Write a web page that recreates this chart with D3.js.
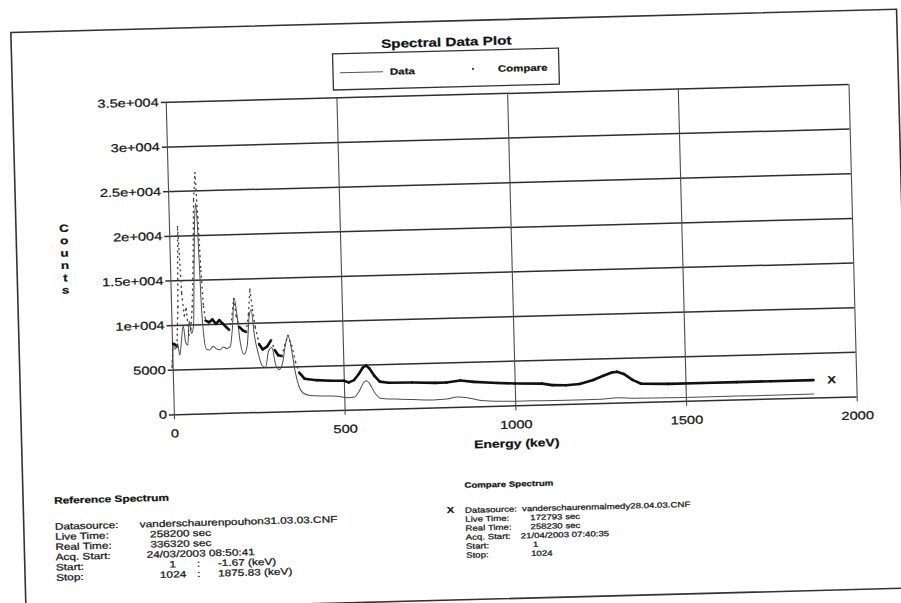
<!DOCTYPE html>
<html>
<head>
<meta charset="utf-8">
<script src="https://cdn.jsdelivr.net/npm/d3@7"></script>
<style>
  body { margin: 0; background: #fff; }
  svg { display: block; }
  text { font-family: "Liberation Sans", Arial, sans-serif; fill: #111; stroke: #222; stroke-width: 0.25px; }
</style>
</head>
<body>
<div id="chart"></div>
<script>
// values, energy in keV -> counts
var dataSeries = [
  [-1.7, 5200], [4, 7600], [10, 7300], [16, 7900], [22, 6600], [28, 8300], [34, 9900],
  [40, 8000], [46, 7700], [52, 10400], [58, 9000], [64, 9800], [70, 16000], [76, 22000],
  [80, 23600], [84, 20000], [88, 13000], [94, 8500], [100, 7200], [110, 7100], [120, 7500],
  [130, 7200], [140, 7100], [150, 7400], [160, 7200], [170, 7400], [178, 9500], [185, 12800],
  [192, 11000], [200, 7800], [210, 6500], [220, 7500], [228, 10800], [234, 11500], [242, 8500],
  [252, 6500], [262, 5200], [272, 5000], [282, 6800], [292, 7200], [302, 5200], [312, 4700],
  [322, 5400], [332, 7500], [340, 8500], [348, 7200], [358, 4500], [368, 2800], [380, 2000],
  [400, 1700], [440, 1600], [480, 1550], [510, 1350], [530, 1400], [545, 2100], [558, 3000],
  [566, 3200], [576, 2800], [590, 1800], [605, 1200], [650, 1050], [700, 950], [760, 850],
  [800, 900], [830, 1100], [860, 1000], [900, 650], [960, 500], [1050, 450], [1150, 420],
  [1250, 430], [1300, 550], [1350, 430], [1450, 400], [1550, 380], [1650, 380], [1750, 380],
  [1875, 400]
];

var compareSeries = [
  [-1.7, 5300], [3, 7900], [8, 7800], [14, 7600], [20, 12000], [25, 21000], [28, 18000],
  [32, 13500], [38, 11000], [44, 11800], [50, 8800], [56, 9500], [62, 12000], [68, 17000],
  [74, 24000], [80, 27000], [85, 22000], [90, 16000], [95, 12000], [100, 10400], [110, 10200],
  [120, 10500], [130, 10000], [140, 10400], [150, 10000], [160, 9600], [168, 9300], [176, 10400],
  [184, 12800], [190, 10800], [198, 9600], [208, 9200], [218, 9000], [226, 11000], [232, 13800],
  [238, 11500], [245, 9500], [255, 7600], [265, 7000], [278, 7300], [290, 8000], [300, 6900],
  [310, 6300], [320, 6200], [330, 7400], [340, 8500], [350, 7400], [360, 5500], [370, 4300],
  [385, 3600], [420, 3400], [460, 3300], [500, 3250], [515, 3050], [530, 3300], [545, 4000],
  [556, 4650], [566, 4900], [576, 4550], [590, 3700], [605, 3050], [630, 2900], [700, 2850],
  [767, 2750], [800, 2750], [841, 2950], [880, 2750], [950, 2550], [1000, 2450], [1080, 2350],
  [1110, 2150], [1150, 2100], [1190, 2200], [1230, 2600], [1260, 3050], [1285, 3400],
  [1300, 3450], [1320, 3200], [1345, 2500], [1370, 2050], [1450, 1950], [1550, 1950],
  [1650, 1950], [1750, 1950], [1875, 1950]
];

var xTicks = [0, 500, 1000, 1500, 2000];
var xTickLabels = ["0", "500", "1000", "1500", "2000"];
var yTicks = [0, 5000, 10000, 15000, 20000, 25000, 30000, 35000];
var yTickLabels = ["0", "5000", "1e+004", "1.5e+004", "2e+004", "2.5e+004", "3e+004", "3.5e+004"];
var yTitleLetters = ["C", "o", "u", "n", "t", "s"];
var legendNames = ["Data", "Compare"];

var refInfo = [
  ["Datasource:", "vanderschaurenpouhon31.03.03.CNF"],
  ["Live Time:", "258200 sec"],
  ["Real Time:", "336320 sec"],
  ["Acq. Start:", "24/03/2003 08:50:41"],
  ["Start:", "1", ":", "-1.67 (keV)"],
  ["Stop:", "1024", ":", "1875.83 (keV)"]
];
var cmpInfo = [
  ["Datasource:", "vanderschaurenmalmedy28.04.03.CNF"],
  ["Live Time:", "172793 sec"],
  ["Real Time:", "258230 sec"],
  ["Acq. Start:", "21/04/2003 07:40:35"],
  ["Start:", "1"],
  ["Stop:", "1024"]
];

// page and plot geometry (before the scan tilt)
var margin = {left: 171, top: 94.5};
var width = 683, height = 312.5;
var tilt = -1.5;

var svg = d3.select("#chart").append("svg")
  .attr("width", 901)
  .attr("height", 603);

var page = svg.append("g")
  .attr("transform", "rotate(" + tilt + ",450,300)");

// printed page border
page.append("path")
  .attr("d", "M18,600 L18,21 L904,21 L904,600 Z")
  .attr("fill", "none")
  .attr("stroke", "#333")
  .attr("stroke-width", 1.6);

page.append("text")
  .attr("x", 453).attr("y", 42).attr("dy", "0.35em")
  .attr("text-anchor", "middle")
  .attr("font-size", 12).attr("font-weight", "bold")
  .text("Spectral Data Plot");

// legend
var legend = page.append("g");
legend.append("rect")
  .attr("x", 339).attr("y", 51).attr("width", 226).attr("height", 36)
  .attr("fill", "none").attr("stroke", "#333").attr("stroke-width", 1.3);
legend.append("line")
  .attr("x1", 346).attr("x2", 389).attr("y1", 70).attr("y2", 70)
  .attr("stroke", "#555").attr("stroke-width", 1);
legend.append("circle")
  .attr("cx", 479).attr("cy", 69.5).attr("r", 1.1).attr("fill", "#333");
legend.selectAll("text.lg")
  .data(legendNames)
  .enter().append("text")
    .attr("class", "lg")
    .attr("x", function(d, i) { return i ? 504 : 396; })
    .attr("y", 70).attr("dy", "0.35em")
    .attr("font-size", 9).attr("font-weight", "bold")
    .text(function(d) { return d; });

var plot = page.append("g")
  .attr("transform", "translate(" + margin.left + "," + margin.top + ")");

var x = d3.scaleLinear().domain([0, 2000]).range([0, width]);
var y = d3.scaleLinear().domain([0, 35000]).range([height, 0]);

// horizontal grid + labels
var yAxis = plot.append("g")
  .call(d3.axisLeft(y)
    .tickValues(yTicks)
    .tickFormat(function(d, i) { return yTickLabels[i]; })
    .tickSize(-width)
    .tickPadding(7));
yAxis.select(".domain").remove();
yAxis.selectAll(".tick line")
  .attr("x1", -5)
  .attr("stroke", "#2e2e36")
  .attr("stroke-width", 1.5);
yAxis.selectAll(".tick text")
  .attr("font-size", 11.5)
  .attr("font-family", null)
  .attr("fill", null);

// vertical grid + labels
var xAxis = plot.append("g")
  .attr("transform", "translate(0," + height + ")")
  .call(d3.axisBottom(x)
    .tickValues(xTicks)
    .tickFormat(function(d, i) { return xTickLabels[i]; })
    .tickSize(-height)
    .tickPadding(15));
xAxis.select(".domain").remove();
xAxis.selectAll(".tick line")
  .attr("y1", 5)
  .attr("stroke", "#4a4a52")
  .attr("stroke-width", 1.1);
xAxis.selectAll(".tick text")
  .attr("font-size", 11.5)
  .attr("font-family", null)
  .attr("fill", null);

page.append("text")
  .attr("x", 513).attr("y", 445).attr("dy", "0.35em")
  .attr("text-anchor", "middle")
  .attr("font-size", 11).attr("font-weight", "bold")
  .text("Energy (keV)");

page.selectAll("text.ytl")
  .data(yTitleLetters)
  .enter().append("text")
    .attr("class", "ytl")
    .attr("x", 66)
    .attr("y", function(d, i) { return 218 + i * 12.4; })
    .attr("dy", "0.35em")
    .attr("text-anchor", "middle")
    .attr("font-size", 10.5).attr("font-weight", "bold")
    .text(function(d) { return d; });

// Data spectrum: thin line
var line = d3.line()
  .x(function(d) { return x(d[0]); })
  .y(function(d) { return y(d[1]); })
  .curve(d3.curveMonotoneX);

plot.append("path")
  .datum(dataSeries)
  .attr("d", line)
  .attr("fill", "none")
  .attr("stroke", "#4d4d4d")
  .attr("stroke-width", 1);

// Compare spectrum: drawn per channel marker, so steep parts break into dots
plot.append("g").selectAll("line")
  .data(d3.pairs(compareSeries))
  .enter().append("line")
    .attr("x1", function(d) { return x(d[0][0]); })
    .attr("y1", function(d) { return y(d[0][1]); })
    .attr("x2", function(d) { return x(d[1][0]); })
    .attr("y2", function(d) { return y(d[1][1]); })
    .attr("stroke-linecap", "round")
    .each(function(d) {
      var dx = Math.abs(x(d[1][0]) - x(d[0][0]));
      var dy = Math.abs(y(d[1][1]) - y(d[0][1]));
      var steep = dy > 6 && dy > 2.5 * dx;
      d3.select(this)
        .attr("stroke", steep ? "#444" : "#111")
        .attr("stroke-width", steep ? 1.4 : 2.6)
        .attr("stroke-dasharray", steep ? "1,4.5" : null);
    });

var last = compareSeries[compareSeries.length - 1];
plot.append("text")
  .attr("x", x(last[0]) + 14)
  .attr("y", y(last[1]))
  .attr("dy", "0.35em")
  .attr("font-size", 10).attr("font-weight", "bold")
  .text("X");

// spectrum info blocks under the plot
function infoBlock(title, rows, o) {
  var g = page.append("g");
  g.append("text")
    .attr("x", o.x).attr("y", o.titleY).attr("dy", "0.35em")
    .attr("font-size", o.size).attr("font-weight", "bold")
    .text(title);
  rows.forEach(function(r, i) {
    var yy = o.rowY + i * o.step;
    g.append("text")
      .attr("x", o.x).attr("y", yy).attr("dy", "0.35em")
      .attr("font-size", o.size)
      .text(r[0]);
    g.append("text")
      .attr("x", o.valueX[i]).attr("y", yy).attr("dy", "0.35em")
      .attr("text-anchor", r.length > 2 ? "middle" : "start")
      .attr("font-size", o.size)
      .text(r[1]);
    if (r.length > 2) {
      g.append("text").attr("x", o.colonX).attr("y", yy).attr("dy", "0.35em")
        .attr("font-size", o.size).text(r[2]);
      g.append("text").attr("x", o.unitX).attr("y", yy).attr("dy", "0.35em")
        .attr("font-size", o.size).text(r[3]);
    }
  });
  return g;
}

infoBlock("Reference Spectrum", refInfo, {
  x: 49, titleY: 490, rowY: 516, step: 10.2, size: 9.3,
  valueX: [134, 144, 144, 140, 166, 166], colonX: 190, unitX: 211
});
infoBlock("Compare Spectrum", cmpInfo, {
  x: 459.5, titleY: 485.5, rowY: 510.5, step: 9, size: 7.6,
  valueX: [516.5, 524.5, 524.5, 514.5, 526.5, 524.5]
});
page.append("text")
  .attr("x", 441.5).attr("y", 510).attr("dy", "0.35em")
  .attr("font-size", 8.5).attr("font-weight", "bold")
  .text("X");

// the print is wider than its type: stretch every label sideways
svg.selectAll("text").each(function() {
  var len = this.getComputedTextLength();
  if (len > 0) {
    this.setAttribute("textLength", (len * 1.27).toFixed(1));
    this.setAttribute("lengthAdjust", "spacingAndGlyphs");
  }
});
</script>
</body>
</html>
